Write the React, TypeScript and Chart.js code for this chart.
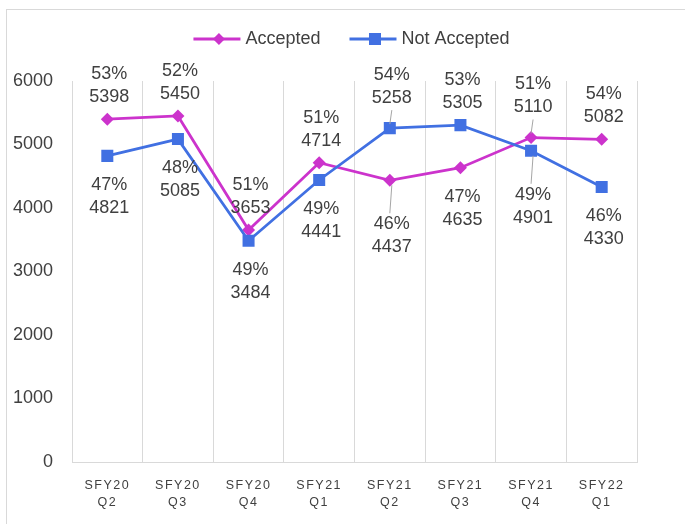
import React, { useEffect, useRef } from 'react';
import { Chart, registerables } from 'chart.js';

Chart.register(...registerables);

const categories = ['SFY20 Q2', 'SFY20 Q3', 'SFY20 Q4', 'SFY21 Q1', 'SFY21 Q2', 'SFY21 Q3', 'SFY21 Q4', 'SFY22 Q1'];
const accepted = [5398, 5450, 3653, 4714, 4437, 4635, 5110, 5082];
const notAccepted = [4821, 5085, 3484, 4441, 5258, 5305, 4901, 4330];
const yTickValues = [0, 1000, 2000, 3000, 4000, 5000, 6000];
const seriesNames = ['Accepted', 'Not Accepted'];

// label placement per point (style config)
const acceptedPlacement = ['above', 'above', 'above', 'above', 'belowFar', 'below', 'aboveFar', 'above'];
const notAcceptedPlacement = ['below', 'below', 'below', 'below', 'aboveFar', 'above', 'belowFar', 'below'];

const MAGENTA = '#CC33CC';
const BLUE = '#4170E2';
const FONT = '"Liberation Sans", Arial, sans-serif';

const OFFSETS: Record<string, { pct: number; val: number; leader?: [number, number] }> = {
  above: { pct: -45, val: -22 },
  aboveFar: { pct: -53, val: -30, leader: [-18, -4] },
  below: { pct: 29, val: 52 },
  belowFar: { pct: 44, val: 67, leader: [5, 33] },
};

const labelPlugin = {
  id: 'valueLabels',
  afterDatasetsDraw(chart: any) {
    const ctx = chart.ctx;
    ctx.save();
    ctx.font = `18px ${FONT}`;
    ctx.fillStyle = '#404040';
    ctx.textAlign = 'center';
    ctx.textBaseline = 'middle';
    const placements = [acceptedPlacement, notAcceptedPlacement];
    chart.data.datasets.forEach((ds: any, di: number) => {
      const meta = chart.getDatasetMeta(di);
      meta.data.forEach((pt: any, i: number) => {
        const v = ds.data[i] as number;
        const total = accepted[i] + notAccepted[i];
        const pct = Math.round((v / total) * 100);
        const off = OFFSETS[placements[di][i]];
        const x = pt.x;
        const y = pt.y;
        if (off.leader) {
          ctx.save();
          ctx.strokeStyle = '#A6A6A6';
          ctx.lineWidth = 1;
          ctx.beginPath();
          ctx.moveTo(x + 2, y + off.leader[0]);
          ctx.lineTo(x, y + off.leader[1]);
          ctx.stroke();
          ctx.restore();
        }
        ctx.fillText(`${pct}%`, x + 2, y + off.pct);
        ctx.fillText(String(v), x + 2, y + off.val);
      });
    });
    ctx.restore();
    // letter spacing for x-axis labels drawn afterwards (z = 1)
    (ctx as any).letterSpacing = '1.5px';
  },
  afterDraw(chart: any) {
    const ctx = chart.ctx;
    (ctx as any).letterSpacing = '0px';
    // legend
    ctx.save();
    ctx.font = `18px ${FONT}`;
    ctx.textBaseline = 'middle';
    ctx.textAlign = 'left';
    const lineW = 47;
    const gapText = 5;
    const gapItem = 29;
    const colors = [MAGENTA, BLUE];
    const widths = seriesNames.map((n) => ctx.measureText(n).width);
    const total = widths.reduce((a, w) => a + lineW + gapText + w, 0) + gapItem;
    const center = (chart.chartArea.left + chart.chartArea.right) / 2 - 3;
    let x = center - total / 2;
    const y = 39;
    seriesNames.forEach((n, i) => {
      ctx.strokeStyle = colors[i];
      ctx.fillStyle = colors[i];
      ctx.lineWidth = 3;
      ctx.beginPath();
      ctx.moveTo(x, y);
      ctx.lineTo(x + lineW, y);
      ctx.stroke();
      const mx = x + lineW / 2 + 2;
      if (i === 0) {
        ctx.beginPath();
        ctx.moveTo(mx, y - 6);
        ctx.lineTo(mx + 6, y);
        ctx.lineTo(mx, y + 6);
        ctx.lineTo(mx - 6, y);
        ctx.closePath();
        ctx.fill();
      } else {
        ctx.fillRect(mx - 6, y - 6, 12, 12);
      }
      ctx.fillStyle = '#404040';
      ctx.fillText(n, x + lineW + gapText, y);
      x += lineW + gapText + widths[i] + gapItem;
    });
    ctx.restore();
  },
  beforeDraw(chart: any) {
    const ctx = chart.ctx;
    ctx.save();
    ctx.fillStyle = '#ffffff';
    ctx.fillRect(0, 0, chart.width, chart.height);
    ctx.strokeStyle = '#D9D9D9';
    ctx.lineWidth = 1;
    ctx.strokeRect(6.5, 9.5, chart.width + 20, chart.height + 20);
    ctx.restore();
  },
};

export default function App() {
  const ref = useRef<HTMLCanvasElement | null>(null);
  useEffect(() => {
    if (!ref.current) return;
    const chart = new Chart(ref.current, {
      type: 'line',
      data: {
        labels: categories,
        datasets: [
          {
            label: seriesNames[0],
            data: accepted,
            borderColor: MAGENTA,
            backgroundColor: MAGENTA,
            borderWidth: 2.75,
            pointStyle: 'rectRot',
            pointRadius: 6.5,
            pointBorderWidth: 0,
            pointBackgroundColor: MAGENTA,
            tension: 0,
            order: 2,
          },
          {
            label: seriesNames[1],
            data: notAccepted,
            borderColor: BLUE,
            backgroundColor: BLUE,
            borderWidth: 2.75,
            pointStyle: 'rect',
            pointRadius: 8.5,
            pointBorderWidth: 0,
            pointBackgroundColor: BLUE,
            tension: 0,
            order: 1,
          },
        ],
      },
      options: {
        responsive: false,
        animation: false,
        layout: { padding: { left: 0, right: 48, top: 81, bottom: 0 } },
        plugins: {
          legend: { display: false },
          tooltip: { enabled: false },
        },
        scales: {
          x: {
            offset: true,
            grid: { color: '#D9D9D9', drawTicks: false, offset: true },
            border: { color: '#D9D9D9' },
            ticks: {
              z: 1,
              padding: 15,
              color: '#404040',
              font: { family: FONT, size: 12.5, lineHeight: 17 / 12.5 },
              maxRotation: 0,
              autoSkip: false,
              callback: (_v: any, i: number) => categories[i].split(' '),
            },
            afterFit: (s: any) => {
              s.height = 62;
            },
          },
          y: {
            min: 0,
            max: 6000,
            grid: { display: false, drawTicks: false },
            border: { display: false },
            afterBuildTicks: (s: any) => {
              s.ticks = yTickValues.map((v) => ({ value: v }));
            },
            ticks: {
              padding: 19,
              color: '#404040',
              font: { family: FONT, size: 18 },
              callback: (v: any) => String(v),
            },
            afterFit: (s: any) => {
              s.width = 72;
            },
          },
        },
      },
      plugins: [labelPlugin],
    });
    return () => chart.destroy();
  }, []);
  return (
    <div style={{ position: 'absolute', left: 0, top: 0, width: 685, height: 524 }}>
      <canvas ref={ref} width={685} height={524} style={{ display: 'block' }} />
    </div>
  );
}
